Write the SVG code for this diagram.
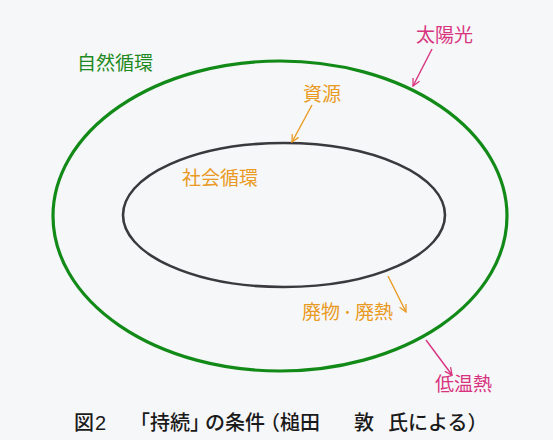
<svg xmlns="http://www.w3.org/2000/svg" width="553" height="440" viewBox="0 0 553 440">
<style>
text{font-family:"Noto Sans CJK JP","Noto Sans CJK SC",sans-serif;font-size:19px}
.pink{fill:#d8337f}.orange{fill:#e99a22}.green{fill:#1f8a22}
.ap{stroke:#d8337f;stroke-width:1.4;fill:none}
.ao{stroke:#e99a22;stroke-width:1.4;fill:none}
</style>
<defs>
<marker id="mp" viewBox="0 0 10 10" refX="9" refY="5" markerWidth="9" markerHeight="9" orient="auto" markerUnits="userSpaceOnUse"><path d="M1,1 L9,5 L1,9" fill="none" stroke="#d8337f" stroke-width="1.4"/></marker>
<marker id="mo" viewBox="0 0 10 10" refX="9" refY="5" markerWidth="9" markerHeight="9" orient="auto" markerUnits="userSpaceOnUse"><path d="M1,1 L9,5 L1,9" fill="none" stroke="#e99a22" stroke-width="1.4"/></marker>
</defs>
<rect width="553" height="440" fill="#f6f7f9"/>
<g id="nature">
<ellipse cx="280" cy="216" rx="227" ry="155" fill="none" stroke="#128a17" stroke-width="3.2"/>
<text class="green" x="77" y="70">自然循環</text>
</g>
<g id="society">
<ellipse cx="284" cy="215" rx="161" ry="72" fill="none" stroke="#3a3a3e" stroke-width="2.6"/>
<text class="orange" x="182" y="185">社会循環</text>
</g>
<g id="sunlight"><text class="pink" x="416" y="42">太陽光</text></g>
<g id="resources"><text class="orange" x="303" y="101">資源</text></g>
<g id="waste"><text class="orange" y="319"><tspan x="302">廃物</tspan><tspan x="341" y="317" style="font-size:13px">・</tspan><tspan x="355" y="319">廃熱</tspan></text></g>
<g id="lowheat"><text class="pink" x="435" y="391">低温熱</text></g>
<g id="connectors">
<line class="ap" x1="432" y1="49" x2="413" y2="86" marker-end="url(#mp)"/>
<line class="ao" x1="312" y1="105" x2="292" y2="142" marker-end="url(#mo)"/>
<line class="ao" x1="388" y1="276" x2="406" y2="312" marker-end="url(#mo)"/>
<line class="ap" x1="426" y1="340" x2="452" y2="375" marker-end="url(#mp)"/>
</g>
<g id="caption">
<text style="font-size:20px;font-weight:500;fill:#1a1a1a"><tspan x="74" y="430">図</tspan><tspan x="95" y="430" style="font-family:'Liberation Sans',sans-serif">2</tspan><tspan x="130" y="430">「持続」</tspan><tspan x="205" y="430">の条件</tspan><tspan x="260" y="430">（槌田</tspan><tspan x="354" y="430">敦</tspan><tspan x="388" y="430">氏による）</tspan></text>
</g>
</svg>
